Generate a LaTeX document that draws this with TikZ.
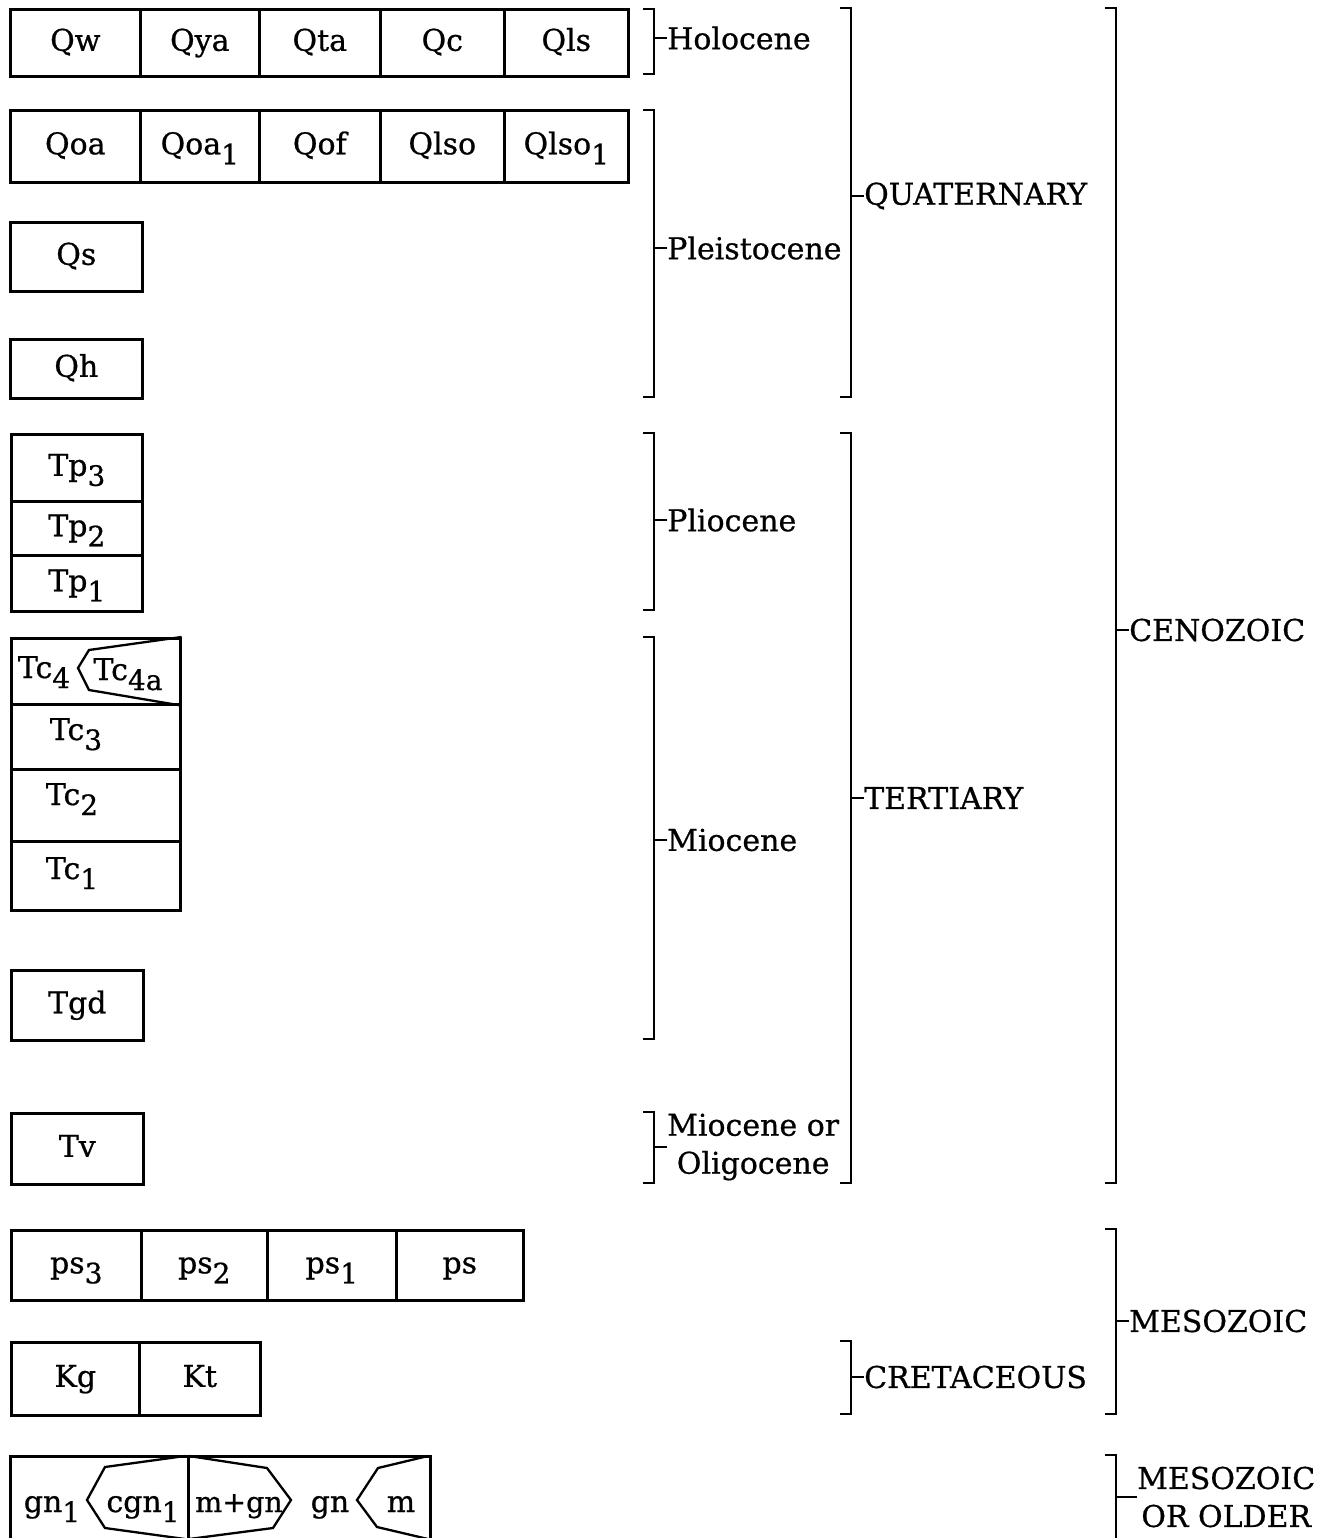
\documentclass[tikz,border=0pt]{standalone}
\usepackage{fontspec}
\setmainfont{DejaVu Serif}[FakeBold=0.7]
\newfontfamily\dvs{DejaVu Serif}[FakeBold=0.7]
\newcommand\lbl{\dvs\fontsize{30}{38}\selectfont}
\newcommand\smlbl{\dvs\fontsize{28.5}{32}\selectfont}
\newcommand\sbs[1]{\raisebox{-10pt}{\fontsize{28}{30}\selectfont #1}}
\newcommand\cellbox[6]{\node[cell, minimum width={(#4-#2)*1pt}, minimum height={(#5-#3)*1pt}] (#1) at (#2,#3) {};
  \node[txt] (#1t) at (#1.center) {#6};}
\newcommand\agebrack[5]{% name, x, y1, y2, ytick
  \draw[brk] (#2-11,#3) -- (#2,#3) -- (#2,#4) -- (#2-11,#4);
  \coordinate (#1) at (#2,#5);}
\tikzset{
  cell/.style={draw, line width=2.6pt, inner sep=0pt, anchor=north west},
  txt/.style={inner sep=0pt, font=\lbl, text height=16pt, text depth=0pt},
  ftxt/.style={txt, anchor=base},
  lab/.style={inner sep=0pt, font=\lbl, anchor=west},
  lab2/.style={inner sep=0pt, font=\lbl, anchor=west, align=center},
  brk/.style={line width=2.6pt, line cap=butt},
  inner/.style={draw, line width=2.3pt, line join=miter},
  tick/.style={line width=2.4pt}
}
\begin{document}
\begin{tikzpicture}[x=1pt,y=-1pt]
\useasboundingbox (0,0) rectangle (1332,1538);
% Row 1
\cellbox{qw}{9}{8}{139}{75}{Qw}
\cellbox{qya}{139}{8}{258}{75}{Qya}
\cellbox{qta}{258}{8}{379}{75}{Qta}
\cellbox{qc}{379}{8}{503}{75}{Qc}
\cellbox{qls}{503}{8}{627}{75}{Qls}
% Row 2
\cellbox{qoa}{9}{109}{139}{181}{Qoa}
\cellbox{qoaa}{139}{109}{258}{181}{Qoa\sbs{1}}
\cellbox{qof}{258}{109}{379}{181}{Qof}
\cellbox{qlso}{379}{109}{503}{181}{Qlso}
\cellbox{qlsoa}{503}{109}{627}{181}{Qlso\sbs{1}}
\cellbox{qs}{9}{221}{141}{290}{Qs}
\cellbox{qh}{9}{338}{141}{397}{Qh}
% Tp
\cellbox{tpc}{10}{433}{141}{500}{Tp\sbs{3}}
\cellbox{tpb}{10}{500}{141}{554}{Tp\sbs{2}}
\cellbox{tpa}{10}{554}{141}{610}{Tp\sbs{1}}
% Tc
\cellbox{tcd}{10}{637}{179}{703}{}
\cellbox{tcc}{10}{703}{179}{768}{}
\cellbox{tcb}{10}{768}{179}{840}{}
\cellbox{tca}{10}{840}{179}{909}{}
\node[ftxt] (tcdt) at (44,678) {Tc\sbs{4}};
\node[ftxt] (tcdat) at (128,680) {Tc\sbs{4a}};
\node[ftxt] (tcct) at (76,740) {Tc\sbs{3}};
\node[ftxt] (tcbt) at (72,805) {Tc\sbs{2}};
\node[ftxt] (tcat) at (72,879) {Tc\sbs{1}};
\draw[inner] (tcd.north east) -- (89,650) -- (78,668) -- (89,690) -- (tcd.south east);
\cellbox{tgd}{10}{969}{142}{1039}{Tgd}
\cellbox{tv}{10}{1112}{142}{1183}{Tv}
% ps
\cellbox{psc}{10}{1229}{140}{1299}{ps\sbs{3}}
\cellbox{psb}{140}{1229}{266}{1299}{ps\sbs{2}}
\cellbox{psa}{266}{1229}{395}{1299}{ps\sbs{1}}
\cellbox{ps}{395}{1229}{522}{1299}{ps}
% K
\cellbox{kg}{10}{1341}{138}{1414}{Kg}
\cellbox{kt}{138}{1341}{259}{1414}{Kt}
% bottom
\cellbox{bl}{9}{1455}{187}{1548}{}
\cellbox{br}{187}{1455}{429}{1548}{}
\draw[inner] (185,1456) -- (105,1467) -- (87,1500) -- (105,1528) -- (185,1539);
\draw[inner] (189,1456) -- (267,1468) -- (291,1500) -- (273,1528) -- (189,1539);
\draw[inner] (428,1456) -- (378,1468) -- (357,1500) -- (377,1527) -- (428,1539);
\node[ftxt] (gna) at (52,1512) {gn\sbs{1}};
\node[ftxt] (cgn) at (143,1512) {cgn\sbs{1}};
\node[ftxt, font=\smlbl] (mgn) at (239,1512) {m+gn};
\node[ftxt] (gn) at (330,1512) {gn};
\node[ftxt] (m) at (401,1512) {m};
% brackets
\agebrack{hol}{654}{9}{74}{38}
\node[lab] (holt) at (667,38) {Holocene};
\draw[tick] (hol) -- (holt.west);
\agebrack{ple}{654}{110}{397}{248}
\node[lab] (plet) at (667,248) {Pleistocene};
\draw[tick] (ple) -- (plet.west);
\agebrack{qua}{851}{8}{397}{196}
\node[lab] (quat) at (864,196) {QUATERNARY};
\draw[tick] (qua) -- (quat.west);
\agebrack{pli}{654}{433}{610}{520}
\node[lab] (plit) at (667,520) {Pliocene};
\draw[tick] (pli) -- (plit.west);
\agebrack{mio}{654}{637}{1039}{840}
\node[lab] (miot) at (667,840) {Miocene};
\draw[tick] (mio) -- (miot.west);
\agebrack{mol}{654}{1112}{1183}{1147}
\node[lab2] (molt) at (667,1147) {Miocene or\\Oligocene};
\draw[tick] (mol) -- (molt.west);
\agebrack{ter}{851}{433}{1183}{798}
\node[lab] (tert) at (864,798) {TERTIARY};
\draw[tick] (ter) -- (tert.west);
\agebrack{cen}{1116}{8}{1183}{630}
\node[lab] (cent) at (1129,630) {CENOZOIC};
\draw[tick] (cen) -- (cent.west);
\agebrack{cre}{851}{1341}{1414}{1377}
\node[lab] (cret) at (864,1377) {CRETACEOUS};
\draw[tick] (cre) -- (cret.west);
\agebrack{mes}{1116}{1229}{1414}{1321}
\node[lab] (mest) at (1129,1321) {MESOZOIC};
\draw[tick] (mes) -- (mest.west);
\agebrack{mso}{1116}{1455}{1560}{1497}
\node[lab2] (msot) at (1137,1497) {MESOZOIC\\OR OLDER};
\draw[tick] (mso) -- (msot.west);
\end{tikzpicture}
\end{document}
